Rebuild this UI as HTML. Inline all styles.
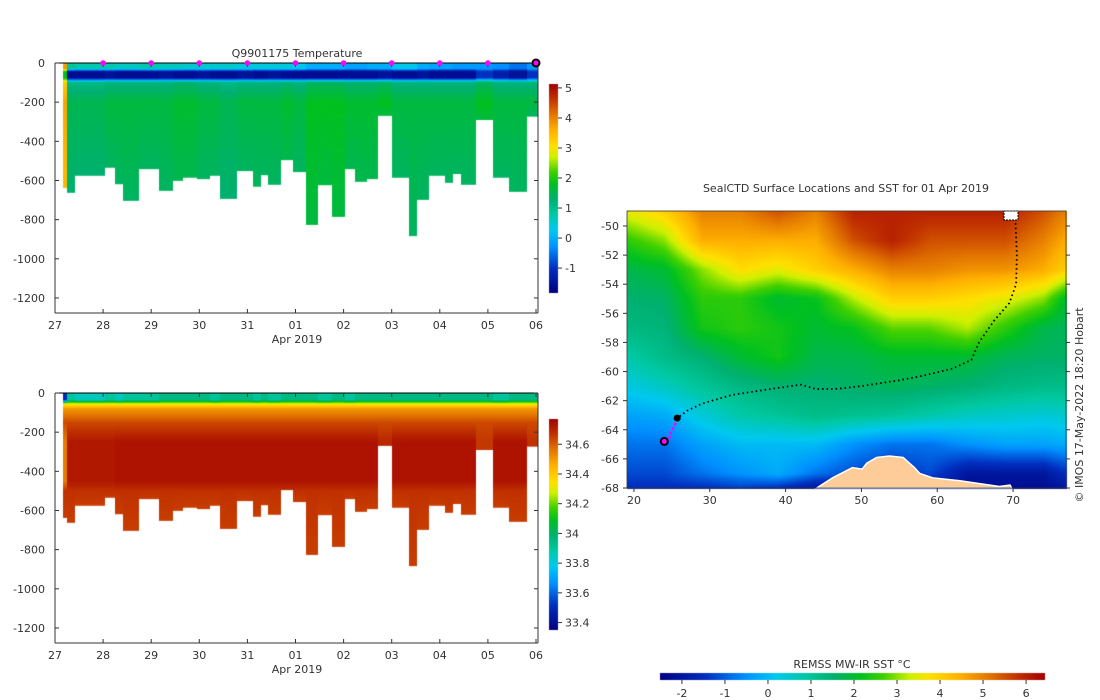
<!DOCTYPE html>
<html><head><meta charset="utf-8">
<style>
body{margin:0;background:#fff;width:1100px;height:700px;overflow:hidden;position:relative;font-family:"DejaVu Sans","Liberation Sans",sans-serif}
canvas{position:absolute}
svg{position:absolute;left:0;top:0}
svg text{font-family:"DejaVu Sans","Liberation Sans",sans-serif;font-size:11px;fill:#333}
</style></head>
<body>
<canvas id="cT" width="1100" height="700" style="left:0;top:0"></canvas>
<svg id="ov" width="1100" height="700"></svg>
<script>
// ---------- data ----------
const profileStart=[0.169,0.254,0.423,1.038,1.238,1.423,1.754,2.154,2.446,2.669,2.962,3.215,3.438,3.792,4.108,4.277,4.438,4.708,4.938,5.208,5.462,5.769,6.023,6.246,6.477,6.708,7.015,7.354,7.523,7.769,8.1,8.269,8.431,8.746,9.1,9.431,9.808];
const profileEnd=10.046;
const maxDepth=[638,663,576,535,619,704,542,653,602,586,593,576,694,552,632,573,622,496,557,827,624,786,542,607,593,270,586,884,699,576,612,567,622,291,586,658,274];
const surfaceT=[3.8,0.9,0.7,0.7,0.6,0.6,0.7,0.6,0.6,0.5,0.5,0.5,0.5,0.4,0.4,0.4,0.4,0.4,0.3,0.0,0.0,0.0,-0.1,-0.1,0.0,0.0,0.3,0.3,0.0,-0.1,-0.1,-0.2,-0.2,-0.2,-0.3,-0.5,-0.2];
const winterT=[1.8,-1.6,-1.6,-1.5,-1.6,-1.6,-1.6,-1.5,-1.6,-1.6,-1.5,-1.6,-1.6,-1.5,-1.6,-1.6,-1.5,-1.6,-1.6,-1.6,-1.6,-1.6,-1.6,-1.6,-1.6,-1.5,-1.6,-1.6,-1.5,-1.6,-1.6,-1.6,-1.6,-1.0,-1.3,-1.5,-1.0];
const deepT=[3.7,1.5,1.5,1.6,1.6,1.6,1.6,1.6,1.7,1.7,1.6,1.6,1.5,1.6,1.6,1.6,1.6,1.7,1.6,1.8,1.8,1.8,1.7,1.7,1.7,1.8,1.6,1.6,1.6,1.6,1.6,1.6,1.6,1.8,1.6,1.6,1.6];
const surfaceS=[33.5,33.9,33.85,33.9,33.85,33.9,33.9,33.95,33.95,33.95,33.95,33.9,33.95,33.95,33.9,33.95,33.9,33.95,33.95,33.95,33.9,33.95,33.9,33.95,33.95,33.95,33.95,33.95,33.95,33.95,33.95,33.95,33.95,33.95,33.9,33.95,33.95];
const deepS=[34.55,34.72,34.72,34.72,34.73,34.73,34.73,34.73,34.73,34.73,34.73,34.73,34.73,34.73,34.73,34.73,34.73,34.73,34.73,34.73,34.73,34.73,34.73,34.73,34.73,34.69,34.73,34.73,34.73,34.73,34.73,34.73,34.73,34.66,34.73,34.73,34.67];
const dayTicks=["27","28","29","30","31","01","02","03","04","05","06"];
const depthTicks=[0,-200,-400,-600,-800,-1000,-1200];
const tempTicks=[-1,0,1,2,3,4,5];
const salTicks=[33.4,33.6,33.8,34,34.2,34.4,34.6];
const sstTicks=[-2,-1,0,1,2,3,4,5,6];
const lonTicks=[20,30,40,50,60,70];
const latTicks=[-50,-52,-54,-56,-58,-60,-62,-64,-66,-68];
const sstLats=[-49,-51,-53,-55,-57,-59,-61,-63,-65,-67,-68];
const sstLons=[19,24,29,34,39,44,49,54,59,64,69,74,77];
const sstGrid=[
[3.5,4,5,5,5.5,5,6,6,6,6,6,5.5,5],
[2.5,3,4.5,4.5,4.5,4.5,5.5,6,5.5,5.5,5.5,5,4.5],
[1.8,2,3,3.8,3.5,4,4.5,5,5,4.8,4.8,4.5,4],
[1.5,1.6,2.5,2.5,2,2.2,3.2,4,4,3.8,3.5,3,2],
[1.3,1.4,2.3,2.5,2.3,2,2.2,2.8,2.8,3.2,2.5,1.8,1.7],
[0.8,1.2,1.5,2,2.3,1.8,1.8,2,2,2,1.7,1.6,1.6],
[0.3,0.6,1,1.3,1.5,1.5,1.6,1.7,1.6,1.5,1.3,1.2,1.2],
[-0.3,-0.2,0.4,0.8,1,1.2,1.1,1,0.8,0.6,0.5,0.4,0.5],
[-0.8,-0.8,-0.3,0,0,0,-0.5,-0.8,-0.8,-0.5,-0.3,-0.3,-0.2],
[-1.2,-1.2,-0.8,-0.5,-0.2,-0.8,-1.2,-1.5,-1.2,-2,-2,-2,-1.5],
[-1.5,-1.5,-1.5,-1.3,-1.5,-2,-2,-2,-2,-2.2,-2.2,-2.2,-2]];
const trackLon=[70.3,70.5,70.4,69.5,67.5,65.5,64.5,62,58,55,50,46.5,44,42,38,33,29,27,25.7];
const trackLat=[-49.5,-52,-54,-55.3,-56.5,-58,-59.2,-59.8,-60.3,-60.6,-61,-61.2,-61.2,-60.9,-61.2,-61.6,-62.2,-62.7,-63.2];
const recentLon=[25.7,25.5,25.3,24.8,24.8,24];
const recentLat=[-63.2,-63.5,-63.8,-64.2,-64.5,-64.8];
const coastLon=[44.1,46.2,48.8,50.1,50.7,52,53.7,55.5,57,57.7,59.4,63,68.2,69.6,69.8];
const coastLat=[-68,-67.3,-66.6,-66.7,-66.3,-65.9,-65.8,-65.9,-66.6,-67,-67.3,-67.5,-67.9,-67.8,-68];

// ---------- colormap ----------
const stops=[[0,[0,0,128]],[0.12,[0,48,192]],[0.22,[0,144,255]],[0.3,[0,200,240]],[0.38,[0,200,160]],[0.45,[0,176,112]],[0.52,[0,192,32]],[0.58,[64,208,0]],[0.65,[208,240,0]],[0.7,[255,224,0]],[0.78,[255,176,0]],[0.86,[224,112,0]],[0.93,[192,48,0]],[1,[160,0,0]]];
function cmap(f){f=Math.max(0,Math.min(1,f));for(let i=1;i<stops.length;i++){if(f<=stops[i][0]){const a=stops[i-1],b=stops[i],t=(f-a[0])/(b[0]-a[0]);return [0,1,2].map(k=>Math.round(a[1][k]+(b[1][k]-a[1][k])*t));}}return stops[stops.length-1][1];}
function css(c){return `rgb(${c[0]},${c[1]},${c[2]})`;}
function interp(kd,kv,d){if(d<=kd[0])return kv[0];for(let i=1;i<kd.length;i++){if(d<=kd[i]){const t=(d-kd[i-1])/(kd[i]-kd[i-1]);return kv[i-1]+(kv[i]-kv[i-1])*t;}}return kv[kv.length-1];}

const NS='http://www.w3.org/2000/svg';
const svg=document.getElementById('ov');
function el(tag,attrs,parent){const e=document.createElementNS(NS,tag);for(const k in attrs)e.setAttribute(k,attrs[k]);(parent||svg).appendChild(e);return e;}
function txt(x,y,s,anchor,parent,extra){const t=el('text',Object.assign({x:x,y:y,'text-anchor':anchor||'middle'},extra||{}),parent);t.textContent=s;return t;}

const ctx=document.getElementById('cT').getContext('2d');
const X0=55,DAY=48.1,PX=0.1958;
function xDay(d){return X0+d*DAY;}
function section(y0,name,valFn,vmin,vmax){
  const g=el('g',{});
  
  
  for(let i=0;i<profileStart.length;i++){
    const xa=xDay(profileStart[i]),xb=xDay(i+1<profileStart.length?profileStart[i+1]:profileEnd);
    const yb=y0+maxDepth[i]*PX;
    for(let y=y0;y<yb;y++){
      const d=(y-y0+0.5)/PX;
      ctx.fillStyle=css(cmap((valFn(i,d)-vmin)/(vmax-vmin)));
      ctx.fillRect(Math.round(xa),y,Math.round(xb)-Math.round(xa),Math.min(1,yb-y)+0.01);
    }
  }
  const yBot=y0+250;
  el('line',{x1:X0,y1:y0,x2:538,y2:y0,stroke:'#000','stroke-width':1},g);
  el('line',{x1:X0,y1:y0,x2:X0,y2:yBot,stroke:'#333','stroke-width':1},g);
  el('line',{x1:X0,y1:yBot,x2:538,y2:yBot,stroke:'#333','stroke-width':1},g);
  el('line',{x1:538,y1:y0,x2:538,y2:yBot,stroke:'#333','stroke-width':1},g);
  dayTicks.forEach((s,i)=>{const x=xDay(i);
    el('line',{x1:x,y1:yBot,x2:x,y2:yBot-4,stroke:'#333'},g);
    el('line',{x1:x,y1:y0,x2:x,y2:y0+4,stroke:'#333'},g);
    const t=txt(x,yBot+16,s,'middle',g);
    
    });
  depthTicks.forEach(v=>{const y=y0-v*PX;
    el('line',{x1:X0,y1:y,x2:X0+4,y2:y,stroke:'#333'},g);
    el('line',{x1:538,y1:y,x2:534,y2:y,stroke:'#333'},g);
    const t=txt(45,y+4,String(v),'end',g);
    
    });
  const xt=txt(297,yBot+30,'Apr 2019','middle',g);
  
  
}
section(63,'temperature-section',(i,d)=>interp([0,28,45,75,100,200,maxDepth[i]],[surfaceT[i],surfaceT[i],winterT[i],winterT[i],deepT[i]-0.4,deepT[i],deepT[i]-0.2],d),-1.83,5.13);
section(393,'salinity-section',(i,d)=>interp([0,35,55,80,150,250,450,500,maxDepth[i]],[surfaceS[i],surfaceS[i],34.3,34.5,34.63,deepS[i],deepS[i],34.67,34.65],d),33.35,34.77);
const tt=txt(297,57,'Q9901175  Temperature','middle',svg,{'font-size':'12'});


for(let d=1;d<=9;d++){const m=el('circle',{cx:xDay(d),cy:63,r:2.8,fill:'#ff00ff'});
  
  }
const cur=el('circle',{cx:xDay(10),cy:63,r:3.5,fill:'#ff00ff',stroke:'#000','stroke-width':2});



function vbar(x,yTop,yBot,vmin,vmax,ticks,name,fmt){
  const g=el('g',{});
  
  
  for(let y=yTop;y<yBot;y++){ctx.fillStyle=css(cmap(1-(y-yTop+0.5)/(yBot-yTop)));ctx.fillRect(x,y,9,1);}
  ticks.forEach(v=>{const y=yBot-(v-vmin)/(vmax-vmin)*(yBot-yTop);
    el('line',{x1:x+9,y1:y,x2:x+13,y2:y,stroke:'#333'},g);
    txt(x+16,y+4,fmt(v),'start',g);});
}
vbar(549,84,293,-1.83,5.13,tempTicks,'temperature-colorbar',v=>String(v));
vbar(549,419,630,33.35,34.77,salTicks,'salinity-colorbar',v=>String(v));
(function(){const g=el('g',{});
  
  
  const xa=660,xb=1045,vmin=-2.51,vmax=6.44;
  for(let x=xa;x<xb;x++){ctx.fillStyle=css(cmap((x-xa+0.5)/(xb-xa)));ctx.fillRect(x,673,1,7);}
  sstTicks.forEach(v=>{const x=xa+(v-vmin)/(vmax-vmin)*(xb-xa);
    el('line',{x1:x,y1:680,x2:x,y2:684,stroke:'#333'},g);
    txt(x,697,String(v),'middle',g);});
  txt(852,668,'REMSS MW-IR SST °C','middle',g);})();

const MX0=627,MX1=1066,MY0=211,MY1=488,LON0=19.08,LON1=76.98,LAT0=-48.97,LAT1=-68.0;
function lx(l){return MX0+(l-LON0)/(LON1-LON0)*(MX1-MX0);}
function ly(l){return MY0+(l-LAT0)/(LAT1-LAT0)*(MY1-MY0);}
function gridVal(lon,lat){
  let j=0;while(j<sstLons.length-2&&lon>sstLons[j+1])j++;
  let i=0;while(i<sstLats.length-2&&lat<sstLats[i+1])i++;
  const tx=Math.max(0,Math.min(1,(lon-sstLons[j])/(sstLons[j+1]-sstLons[j])));
  const ty=Math.max(0,Math.min(1,(lat-sstLats[i])/(sstLats[i+1]-sstLats[i])));
  const a=sstGrid[i][j],b=sstGrid[i][j+1],c=sstGrid[i+1][j],d=sstGrid[i+1][j+1];
  return (a*(1-tx)+b*tx)*(1-ty)+(c*(1-tx)+d*tx)*ty;}
for(let y=MY0;y<MY1;y+=2)for(let x=MX0;x<MX1;x+=2){
  const lon=LON0+(x+1-MX0)/(MX1-MX0)*(LON1-LON0),lat=LAT0+(y+1-MY0)/(MY1-MY0)*(LAT1-LAT0);
  ctx.fillStyle=css(cmap((gridVal(lon,lat)+2.51)/8.95));ctx.fillRect(x,y,2,2);}
(function(){const g=el('g',{});
  
  
  const land=el('polygon',{points:coastLon.map((l,k)=>lx(l)+','+ly(coastLat[k])).join(' '),fill:'#fdcc99',stroke:'#fff','stroke-width':1.5},g);
  
  
  const tr=el('polyline',{points:trackLon.map((l,k)=>lx(l)+','+ly(trackLat[k])).join(' '),fill:'none',stroke:'#000','stroke-width':1.8,'stroke-dasharray':'1.5 3'},g);
  
  
  const rc=el('polyline',{points:recentLon.map((l,k)=>lx(l)+','+ly(recentLat[k])).join(' '),fill:'none',stroke:'#ff00ff','stroke-width':2.4,'stroke-dasharray':'3 2'},g);
  
  
  el('circle',{cx:lx(trackLon[trackLon.length-1]),cy:ly(trackLat[trackLat.length-1]),r:3.5,fill:'#000'},g);
  const ls=el('circle',{cx:lx(recentLon[recentLon.length-1]),cy:ly(recentLat[recentLat.length-1]),r:3.5,fill:'#ff00ff',stroke:'#000','stroke-width':2},g);
  
  
  el('rect',{x:1004,y:211,width:14,height:9,fill:'#fff',stroke:'#000','stroke-width':1,'stroke-dasharray':'2 1'},g);
  el('rect',{x:MX0,y:MY0,width:MX1-MX0,height:MY1-MY0,fill:'none',stroke:'#333','stroke-width':0.8},g);
  lonTicks.forEach(v=>{const x=lx(v);el('line',{x1:x,y1:MY1,x2:x,y2:MY1+4,stroke:'#333'},g);txt(x,504,String(v),'middle',g);});
  latTicks.forEach(v=>{const y=ly(v);el('line',{x1:MX0,y1:y,x2:MX0-4,y2:y,stroke:'#333'},g);el('line',{x1:MX1,y1:y,x2:MX1+4,y2:y,stroke:'#333'},g);txt(619,y+4,String(v),'end',g);});
  const mt=txt(846,192,'SealCTD Surface Locations and SST for 01 Apr 2019','middle',g);
  
  
  const cr=txt(0,0,'© IMOS 17-May-2022 18:20 Hobart','middle',g,{transform:'translate(1083,405) rotate(-90)','font-size':'10'});
  
  })();
</script>
</body></html>
